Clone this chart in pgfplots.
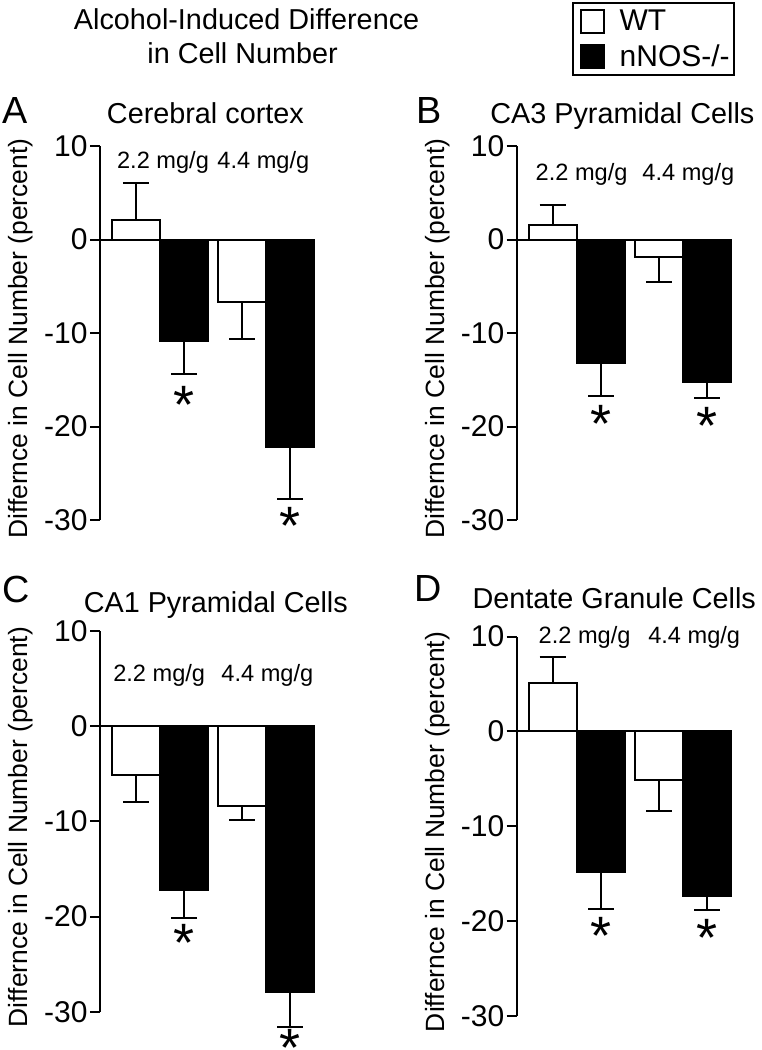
\documentclass[border=0pt]{standalone}
\usepackage{fontspec}
\setmainfont{Liberation Sans}
\usepackage{pgfplots}
\pgfplotsset{compat=1.18}

\pgfplotsset{
  panel/.style={
    scale only axis, width=107pt,
    xmin=0.434, xmax=2.453,
    ymin=-30, ymax=10, ytick={-30,-20,-10,0,10},
    axis x line=none, axis y line=left,
    axis line style={-, line width=1pt},
    tick align=outside, major tick length=5pt,
    tick style={black, line width=1pt},
    yticklabel style={font=\fontsize{15}{15}\selectfont, inner xsep=1pt},
    /pgf/number format/assume math mode=true,
    ylabel={Differnce in Cell Number (percent)},
    ylabel style={font=\fontsize{13.2}{14}\selectfont, at={(axis description cs:-0.369,0.485)}, anchor=center},
    clip=false,
    error bars/y dir=both, error bars/y explicit,
    error bars/error bar style={line width=1pt, black},
    error bars/error mark=-,
    error bars/error mark options={rotate=90, line width=1pt, mark size=6.5pt, black},
  },
  wt/.style={ybar, bar width=0.453, bar shift=0pt, fill=white, draw=black, line width=1pt,
    legend image code/.code={\path (-3.5pt,0pt) (17pt,0pt);
      \draw[fill=white, draw=black, line width=1pt] (0pt,-5.75pt) rectangle (11.5pt,5.75pt);}},
  ko/.style={ybar, bar width=0.453, bar shift=0pt, fill=black, draw=black, line width=1pt,
    legend image code/.code={\path (-3.5pt,0pt) (17pt,0pt);
      \draw[fill=black, draw=black, line width=1pt] (0pt,-5.75pt) rectangle (11.5pt,5.75pt);}},
  zero/.style={black, line width=1pt, forget plot},
  star/.style={only marks, mark=text, text mark={*}, text mark as node,
    text mark style={font=\fontsize{27}{27}\selectfont, inner sep=0pt, anchor=center, yshift=-0.22em},
    forget plot},
}

\begin{document}
\begin{tikzpicture}
\useasboundingbox (0,0) rectangle (380.5pt,-525pt);

% titles and panel letters
\node[font=\fontsize{14.4}{16}\selectfont, anchor=base] at (123.3pt,-14.6pt) {Alcohol-Induced Difference};
\node[font=\fontsize{14.4}{16}\selectfont, anchor=base] at (121.3pt,-31.6pt) {in Cell Number};
\node[font=\fontsize{18.9}{20}\selectfont, anchor=base] at (7.5pt,-61.6pt) {A};
\node[font=\fontsize{18.9}{20}\selectfont, anchor=base] at (214.5pt,-61.6pt) {B};
\node[font=\fontsize{18.9}{20}\selectfont, anchor=base] at (8pt,-301.3pt) {C};
\node[font=\fontsize{18.9}{20}\selectfont, anchor=base] at (214.2pt,-300.8pt) {D};
\node[font=\fontsize{14.4}{16}\selectfont, anchor=base] at (102.7pt,-61.6pt) {Cerebral cortex};
\node[font=\fontsize{14.4}{16}\selectfont, anchor=base] at (311.2pt,-61.6pt) {CA3 Pyramidal Cells};
\node[font=\fontsize{14.4}{16}\selectfont, anchor=base] at (107.9pt,-306.3pt) {CA1 Pyramidal Cells};
\node[font=\fontsize{14.4}{16}\selectfont, anchor=base] at (307.1pt,-304.2pt) {Dentate Granule Cells};
% dose labels
\begin{scope}[every node/.style={font=\fontsize{11.8}{12}\selectfont, anchor=base}]
\node at (81.5pt,-84.2pt) {2.2 mg/g};
\node at (131.7pt,-84.2pt) {4.4 mg/g};
\node at (290.8pt,-90pt) {2.2 mg/g};
\node at (344.2pt,-90pt) {4.4 mg/g};
\node at (79.6pt,-340.8pt) {2.2 mg/g};
\node at (133.7pt,-340.8pt) {4.4 mg/g};
\node at (292.3pt,-321.7pt) {2.2 mg/g};
\node at (347.1pt,-321.7pt) {4.4 mg/g};
\end{scope}

% A: Cerebral cortex
\begin{axis}[panel, at={(50pt,-260pt)}, anchor=south west, height=187pt]
\addplot[zero] coordinates {(0.434,0) (2.453,0)};
\addplot[wt] coordinates {(0.7735,2.1) += (0,3.9) (1.7735,-6.7) -= (0,3.9)};
\addplot[ko] coordinates {(1.2265,-10.9) -= (0,3.5) (2.2265,-22.2) -= (0,5.6)};
\addplot[star] coordinates {(1.2265,-17.2) (2.2265,-30.2)};
\end{axis}

% B: CA3
\begin{axis}[panel, at={(258.35pt,-260pt)}, anchor=south west, height=187pt,
  legend style={at={(axis description cs:1.0186,1.386)}, anchor=north east, draw=black, line width=1pt,
    font=\fontsize{15}{15}\selectfont, inner xsep=0pt, inner ysep=3pt, row sep=5.2pt,
    nodes={inner ysep=0pt, text height=11pt, text depth=1.3pt}},
  legend cell align=left]
\addplot[zero] coordinates {(0.434,0) (2.453,0)};
\addplot[wt] coordinates {(0.7735,1.5) += (0,2.2) (1.7735,-1.9) -= (0,2.6)};
\addplot[ko] coordinates {(1.2265,-13.2) -= (0,3.5) (2.2265,-15.2) -= (0,1.8)};
\addplot[star] coordinates {(1.2265,-19.2) (2.2265,-19.5)};
\legend{WT, nNOS-/-}
\end{axis}

% C: CA1
\begin{axis}[panel, at={(50pt,-505.85pt)}, anchor=south west, height=190.35pt]
\addplot[zero] coordinates {(0.434,0) (2.453,0)};
\addplot[wt] coordinates {(0.7735,-5.1) -= (0,2.9) (1.7735,-8.4) -= (0,1.45)};
\addplot[ko] coordinates {(1.2265,-17.2) -= (0,3.0) (2.2265,-27.9) -= (0,3.7)};
\addplot[star] coordinates {(1.2265,-22.3) (2.2265,-33.3)};
\end{axis}

% D: Dentate granule
\begin{axis}[panel, at={(258.35pt,-508pt)}, anchor=south west, height=189.7pt]
\addplot[zero] coordinates {(0.434,0) (2.453,0)};
\addplot[wt] coordinates {(0.7735,5.1) += (0,2.7) (1.7735,-5.1) -= (0,3.3)};
\addplot[ko] coordinates {(1.2265,-14.8) -= (0,3.9) (2.2265,-17.3) -= (0,1.5)};
\addplot[star] coordinates {(1.2265,-21.1) (2.2265,-21.3)};
\end{axis}
\end{tikzpicture}
\end{document}
